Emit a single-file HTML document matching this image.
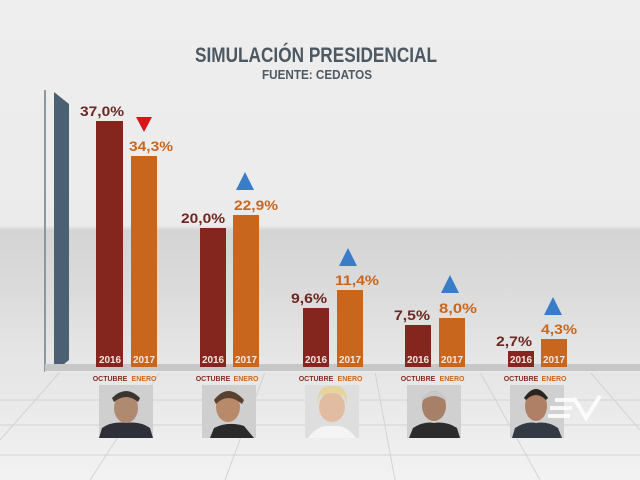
<!DOCTYPE html>
<html><head><meta charset="utf-8"><style>
html,body{margin:0;padding:0;width:640px;height:480px;overflow:hidden;background:#ececec}
svg{display:block}
text{font-family:"Liberation Sans",sans-serif;font-weight:bold}
</style></head><body>
<svg width="640" height="480" viewBox="0 0 640 480" xmlns="http://www.w3.org/2000/svg">
<defs>
<linearGradient id="bg" x1="0" y1="0" x2="0" y2="1">
<stop offset="0" stop-color="#eeeeee"/>
<stop offset="0.47" stop-color="#ebebeb"/>
<stop offset="0.48" stop-color="#d4d4d4"/>
<stop offset="0.62" stop-color="#dcdcdc"/>
<stop offset="0.75" stop-color="#e6e6e6"/>
<stop offset="1" stop-color="#eaeaea"/>
</linearGradient>
<linearGradient id="floor" x1="0" y1="0" x2="0" y2="1">
<stop offset="0" stop-color="#e6e6e6"/>
<stop offset="1" stop-color="#f2f2f2"/>
</linearGradient>
</defs>
<rect width="640" height="480" fill="url(#bg)"/>
<rect x="0" y="372" width="640" height="108" fill="url(#floor)"/>
<g stroke="#c9ced3" stroke-width="1" fill="none" opacity="0.8">
<line x1="0" y1="400" x2="640" y2="400"/>
<line x1="0" y1="425" x2="640" y2="425"/>
<line x1="0" y1="455" x2="640" y2="455"/>
<line x1="60" y1="372" x2="0" y2="440"/>
<line x1="160" y1="372" x2="90" y2="480"/>
<line x1="265" y1="372" x2="225" y2="480"/>
<line x1="375" y1="372" x2="395" y2="480"/>
<line x1="480" y1="372" x2="540" y2="480"/>
<line x1="590" y1="372" x2="640" y2="430"/>
</g>
<!-- left axis -->
<line x1="45" y1="90" x2="45" y2="372" stroke="#8d979e" stroke-width="2"/>
<polygon points="54,92 69,104 69,360 54,372" fill="#4b6173"/>
<!-- base band -->
<rect x="45" y="364" width="595" height="8" fill="#c7c7c7"/>
<rect x="45" y="371" width="595" height="2" fill="#e8e8e8"/>
<!-- bars -->
<g>
<rect x="96" y="121" width="27" height="246" fill="#85261e"/>
<rect x="131" y="156" width="26" height="211" fill="#c8661e"/>
<rect x="200" y="228" width="26" height="139" fill="#85261e"/>
<rect x="233" y="215" width="26" height="152" fill="#c8661e"/>
<rect x="303" y="308" width="26" height="59" fill="#85261e"/>
<rect x="337" y="290" width="26" height="77" fill="#c8661e"/>
<rect x="405" y="325" width="26" height="42" fill="#85261e"/>
<rect x="439" y="318" width="26" height="49" fill="#c8661e"/>
<rect x="508" y="351" width="26" height="16" fill="#85261e"/>
<rect x="541" y="339" width="26" height="28" fill="#c8661e"/>
</g>
<!-- year labels -->
<g font-size="10" fill="#f3e6e0" text-anchor="middle">
<text x="110" y="363" textLength="22">2016</text><text x="144" y="363" textLength="22">2017</text>
<text x="213" y="363" textLength="22">2016</text><text x="246" y="363" textLength="22">2017</text>
<text x="316" y="363" textLength="22">2016</text><text x="350" y="363" textLength="22">2017</text>
<text x="418" y="363" textLength="22">2016</text><text x="452" y="363" textLength="22">2017</text>
<text x="521" y="363" textLength="22">2016</text><text x="554" y="363" textLength="22">2017</text>
</g>
<g font-size="7" text-anchor="middle">
<g fill="#8a2a22"><text x="110" y="381">OCTUBRE</text><text x="213" y="381">OCTUBRE</text><text x="316" y="381">OCTUBRE</text><text x="418" y="381">OCTUBRE</text><text x="521" y="381">OCTUBRE</text></g>
<g fill="#c8661e"><text x="144" y="381">ENERO</text><text x="246" y="381">ENERO</text><text x="350" y="381">ENERO</text><text x="452" y="381">ENERO</text><text x="554" y="381">ENERO</text></g>
</g>
<!-- value labels -->
<g font-size="14">
<g fill="#6e2620" text-anchor="middle">
<text x="102" y="116" textLength="44" lengthAdjust="spacingAndGlyphs">37,0%</text>
<text x="203" y="223" textLength="44" lengthAdjust="spacingAndGlyphs">20,0%</text>
<text x="309" y="303" textLength="36" lengthAdjust="spacingAndGlyphs">9,6%</text>
<text x="412" y="320" textLength="36" lengthAdjust="spacingAndGlyphs">7,5%</text>
<text x="514" y="346" textLength="36" lengthAdjust="spacingAndGlyphs">2,7%</text>
</g>
<g fill="#c8661e" text-anchor="middle">
<text x="151" y="151" textLength="44" lengthAdjust="spacingAndGlyphs">34,3%</text>
<text x="256" y="210" textLength="44" lengthAdjust="spacingAndGlyphs">22,9%</text>
<text x="357" y="285" textLength="44" lengthAdjust="spacingAndGlyphs">11,4%</text>
<text x="458" y="313" textLength="38" lengthAdjust="spacingAndGlyphs">8,0%</text>
<text x="559" y="334" textLength="36" lengthAdjust="spacingAndGlyphs">4,3%</text>
</g>
</g>
<!-- arrows -->
<polygon points="136,117 152,117 144,132" fill="#d8161a"/>
<g fill="#3a7cc8">
<polygon points="236,190 254,190 245,172"/>
<polygon points="339,266 357,266 348,248"/>
<polygon points="441,293 459,293 450,275"/>
<polygon points="544,315 562,315 553,297"/>
</g>
<!-- title -->
<text x="316" y="62" font-size="21" fill="#4d5962" text-anchor="middle" textLength="242" lengthAdjust="spacingAndGlyphs">SIMULACIÓN PRESIDENCIAL</text>
<text x="317" y="79" font-size="13" fill="#4d5962" text-anchor="middle" textLength="110" lengthAdjust="spacingAndGlyphs">FUENTE: CEDATOS</text>
<!-- photos -->
<g>
<rect x="99" y="385" width="54" height="53" fill="#cfcfcf"/>
<ellipse cx="126" cy="408" rx="12" ry="15" fill="#b08a70"/>
<path d="M112 398 Q126 384 140 398 L138 402 Q126 392 114 402Z" fill="#3a3530"/>
<path d="M99 438 L102 428 Q112 421 126 423 Q140 421 150 428 L153 438Z" fill="#2e2f38"/>
<rect x="202" y="385" width="54" height="53" fill="#cfcfcf"/>
<ellipse cx="228" cy="407" rx="12" ry="15" fill="#b88a6a"/>
<path d="M214 400 Q228 382 244 400 L242 404 Q228 392 216 404Z" fill="#5a4030"/>
<path d="M210 438 L214 428 Q228 421 244 426 L254 438Z" fill="#2a2a2a"/>
<rect x="305" y="385" width="54" height="53" fill="#dedede"/>
<ellipse cx="332" cy="407" rx="13" ry="15" fill="#e2bca0"/>
<path d="M317 404 Q318 384 332 386 Q348 384 347 404 L344 396 Q332 390 320 396Z" fill="#e6d49a"/>
<path d="M308 438 Q318 424 332 426 Q346 424 356 438Z" fill="#f4f4f4"/>
<rect x="407" y="385" width="54" height="53" fill="#d0d0d0"/>
<ellipse cx="434" cy="406" rx="12" ry="15" fill="#a88068"/>
<path d="M421 398 Q434 384 447 398 L445 400 Q434 392 423 400Z" fill="#c8c8c8"/>
<path d="M409 438 L413 428 Q424 421 434 423 Q446 421 457 428 L460 438Z" fill="#2c2c2c"/>
<rect x="510" y="385" width="54" height="53" fill="#d0d0d0"/>
<ellipse cx="536" cy="406" rx="11" ry="15" fill="#b08066"/>
<path d="M524 398 Q536 380 548 398 L546 400 Q536 390 526 400Z" fill="#2a2520"/>
<path d="M512 438 L515 428 Q526 421 536 423 Q548 421 558 428 L562 438Z" fill="#343a44"/>
</g>
<!-- logo -->
<g fill="none" stroke="#ffffff" stroke-width="4" opacity="0.85">
<path d="M575 400 L555 400 M572 408 L550 408 M570 416 L548 416"/>
<path d="M574 398 L586 418 L600 396"/>
</g>
</svg>
</body></html>
